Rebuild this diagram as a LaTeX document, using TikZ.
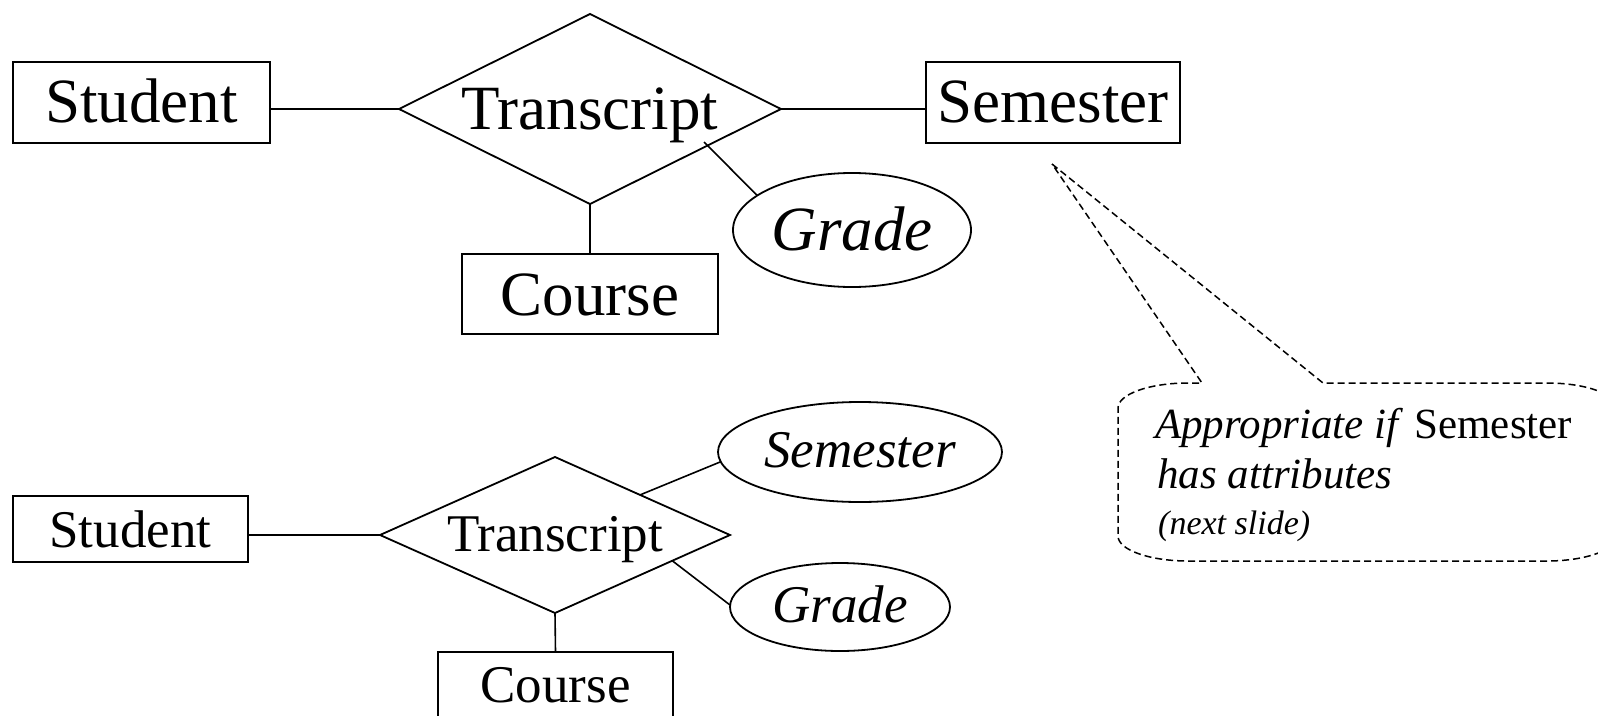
\documentclass[tikz,border=0pt]{standalone}
\usepackage{fontspec}
\setmainfont{Liberation Serif}
\usetikzlibrary{shapes.geometric,calc}
\tikzset{
  er/.style={draw, line width=1.8pt, inner sep=0pt, outer sep=0pt},
  bigtxt/.style={font=\fontsize{63}{70}\selectfont},
  smalltxt/.style={font=\fontsize{53}{60}\selectfont},
  bigital/.style={font=\fontsize{63}{70}\selectfont\itshape},
  smallital/.style={font=\fontsize{53}{60}\selectfont\itshape},
  ent/.style={er, rectangle},
  rel/.style={er, diamond, aspect=2},
  att/.style={er, ellipse},
  link/.style={line width=1.6pt},
  calloutline/.style={line width=1.5pt, dash pattern=on 7pt off 4pt, line join=miter},
  notetxt/.style={anchor=base west, inner sep=0pt}
}
\begin{document}
\begin{tikzpicture}[x=1pt, y=-1pt]
\useasboundingbox (0,0) rectangle (1598,715);
\clip (0,0) rectangle (1598,715);

% ---------- top diagram ----------
\node[ent, bigtxt, minimum width=257pt, minimum height=81pt, text height=42pt, text depth=3pt] (stu1) at (141.5,102.5) {Student};
\node[rel, bigtxt, minimum width=382pt, minimum height=190pt, text height=42pt, text depth=2pt] (tr1) at (590,109) {Transcript};
\node[ent, bigtxt, minimum width=254pt, minimum height=81pt, text height=42pt, text depth=3pt] (sem1) at (1053,102.5) {Semester};
\node[ent, bigtxt, minimum width=256pt, minimum height=80pt, text height=44pt, text depth=2pt] (crs1) at (590,294) {Course};
\node[att, bigital, minimum width=238pt, minimum height=114pt, text height=42pt, text depth=2pt] (gr1) at (852,230) {Grade};

\draw[link] (tr1.west) -- (tr1.west -| stu1.east);
\draw[link] (tr1.east) -- (tr1.east -| sem1.west);
\draw[link] (tr1.south) -- (crs1.north);
\coordinate (g1a) at (704,142);
\draw[link] (g1a) -- (gr1.160);

% ---------- bottom diagram ----------
\node[ent, smalltxt, minimum width=235pt, minimum height=66pt, text height=37pt, text depth=1pt] (stu2) at (130.5,529) {Student};
\node[rel, smalltxt, minimum width=350pt, minimum height=156pt, text height=35pt, text depth=3pt] (tr2) at (555,535) {Transcript};
\node[att, smallital, minimum width=284pt, minimum height=100pt, text height=33pt, text depth=3pt] (sem2) at (860,452) {Semester};
\node[att, smallital, minimum width=220pt, minimum height=88pt, text height=33pt, text depth=3pt] (gr2) at (840,607) {Grade};
\node[ent, smalltxt, minimum width=235pt, minimum height=66pt, text height=36pt, text depth=2pt] (crs2) at (555.5,685) {Course};

\draw[link] (tr2.west) -- (tr2.west -| stu2.east);
\draw[link] (tr2.south) -- (crs2.north);
\draw[link] ($(tr2.north)!0.486!(tr2.east)$) -- (sem2.184);
\draw[link] ($(tr2.east)!0.33!(tr2.south)$) -- (gr2.179);

% ---------- callout ----------
\coordinate (tip) at (1052,164);
\draw[calloutline] (tip) -- (1323,383) -- (1547,383)
  arc[start angle=90, end angle=0, x radius=70pt, y radius=25pt]
  -- (1617,536)
  arc[start angle=0, end angle=-90, x radius=70pt, y radius=25pt]
  -- (1188,561)
  arc[start angle=-90, end angle=-180, x radius=70pt, y radius=25pt]
  -- (1118,408)
  arc[start angle=180, end angle=90, x radius=70pt, y radius=25pt]
  -- (1202,383) -- cycle;

\node[notetxt, font=\fontsize{43}{50}\selectfont\itshape] (note1) at (1155,438) {Appropriate if\hspace{16pt}{\upshape Semester}};
\node[notetxt, font=\fontsize{43}{50}\selectfont\itshape] (note2) at (1157,488) {has attributes};
\node[notetxt, font=\fontsize{34}{40}\selectfont\itshape] (note3) at (1158,534) {(next slide)};
\end{tikzpicture}
\end{document}
